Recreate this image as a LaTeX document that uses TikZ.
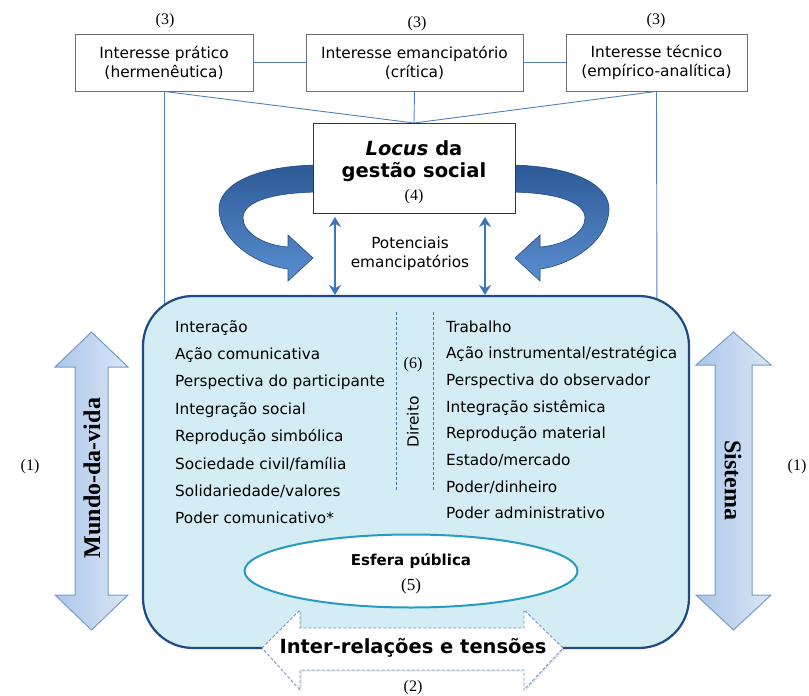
\documentclass[tikz,border=0pt]{standalone}
\usepackage{fontspec}
\setmainfont{Liberation Serif}
\newfontfamily\vsf{DejaVu Sans}
\usetikzlibrary{arrows.meta,shapes.geometric,shadows}
\definecolor{lineblue}{RGB}{79,129,189}
\definecolor{boxgray}{RGB}{110,110,110}
\definecolor{mainfill}{RGB}{212,236,243}
\definecolor{mainborder}{RGB}{30,75,135}
\definecolor{ellborder}{RGB}{40,155,195}
\definecolor{potblue}{RGB}{60,117,187}
\definecolor{sidearrL}{RGB}{172,198,232}
\definecolor{sidearrR}{RGB}{218,230,246}
\definecolor{sideborder}{RGB}{120,155,205}
\definecolor{curvedark}{RGB}{45,90,150}
\definecolor{curvelight}{RGB}{90,142,208}
\definecolor{curveedge}{RGB}{35,75,130}
\definecolor{dashborder}{RGB}{110,148,205}
\begin{document}
\begin{tikzpicture}[x=1pt,y=-1pt,
  topbox/.style={draw=boxgray, line width=0.8pt, fill=white, minimum height=57pt, align=center,
    font=\fontsize{15.4}{19}\selectfont\vsf},
  conn/.style={draw=lineblue, line width=0.9pt},
  numlbl/.style={font=\fontsize{16}{18}\selectfont},
  listtxt/.style={anchor=base west, inner sep=0pt, font=\fontsize{15.3}{18}\selectfont\vsf},
  sidearrow/.style={left color=sidearrL, right color=sidearrR, draw=sideborder, line width=1pt},
  curvefill/.style={top color=curvedark, bottom color=curvelight, draw=curveedge, line width=0.6pt},
  potarrow/.style={draw=potblue, line width=2.8pt, {Stealth[length=10pt,width=12pt]}-{Stealth[length=10pt,width=12pt]}},
  sidetxt/.style={font=\fontsize{24}{28}\selectfont\bfseries},
]
\useasboundingbox (0,0) rectangle (809,696);

% top boxes
\node[topbox, minimum width=178pt] (b1) at (164,62.5) {Interesse prático\\(hermenêutica)};
\node[topbox, minimum width=217pt] (b2) at (414.5,62.5) {Interesse emancipatório\\(crítica)};
\node[topbox, minimum width=181pt] (b3) at (656.5,62.5) {Interesse técnico\\(empírico-analítica)};
\node[numlbl] (t1) at (165,21) {(3)};
\node[numlbl] (t2) at (417,24) {(3)};
\node[numlbl] (t3) at (656,21) {(3)};

% coordinates for lines
\coordinate (loctop) at (414,123);
\coordinate (lend) at (164,330);
\coordinate (rend) at (657,330);

\draw[conn] (b1.east) -- (b2.west);
\draw[conn] (b2.east) -- (b3.west);
\draw[conn] (b1.south) -- (loctop);
\draw[conn] (b3.south) -- (loctop);
\draw[conn] (b2.south) -- (loctop);
\draw[conn] (b1.south) -- (lend);
\draw[conn] (b3.south) -- (rend);

% curved arrows
\path[curvefill] (322,165) .. controls (255,165) and (218,185) .. (219,210)
  .. controls (221,245) and (262,266) .. (288,269) -- (288,281) -- (313,258) -- (288,235) -- (288,247)
  .. controls (262,245) and (243,232) .. (243,218) .. controls (243,200) and (278,192) .. (322,192) -- cycle;
\begin{scope}[shift={(828,0)}, xscale=-1]
\path[curvefill] (322,165) .. controls (255,165) and (218,185) .. (219,210)
  .. controls (221,245) and (262,266) .. (288,269) -- (288,281) -- (313,258) -- (288,235) -- (288,247)
  .. controls (262,245) and (243,232) .. (243,218) .. controls (243,200) and (278,192) .. (322,192) -- cycle;
\end{scope}

% locus box
\node[draw=black!80, line width=1pt, fill=white, minimum width=202pt, minimum height=90pt] (locus) at (414,168) {};
\node[align=center, font=\fontsize{19.5}{22}\selectfont\vsf\bfseries] (loctxt) at (414,161) {\textit{Locus} da\\gestão social};
\node[font=\fontsize{16}{18}\selectfont] (n4) at (414,197) {(4)};

% main box
\node[draw=mainborder, line width=2.2pt, fill=mainfill, rounded corners=50pt,
  minimum width=546pt, minimum height=352pt] (main) at (416,472) {};

% potentials arrows
\coordinate (pa1) at (335,217);
\coordinate (pa2) at (335,295);
\coordinate (pb1) at (485,217);
\coordinate (pb2) at (485,295);
\draw[potarrow] (pa1) -- (pa2);
\draw[potarrow] (pb1) -- (pb2);
\node[align=center, font=\fontsize{15.3}{19}\selectfont\vsf] (pot) at (410,254) {Potenciais\\emancipatórios};

% lists
\foreach \t [count=\i] in {Interação,Ação comunicativa,Perspectiva do participante,Integração social,Reprodução simbólica,Sociedade civil/família,Solidariedade/valores,Poder comunicativo*}
  \node[listtxt] (L\i) at (175,{332+27.4*(\i-1)}) {\t};
\foreach \t [count=\i] in {Trabalho,Ação instrumental/estratégica,Perspectiva do observador,Integração sistêmica,Reprodução material,Estado/mercado,Poder/dinheiro,Poder administrativo}
  \node[listtxt] (R\i) at (446,{332+26.7*(\i-1)}) {\t};

% Direito
\coordinate (d1a) at (396,312);
\coordinate (d1b) at (396,490);
\coordinate (d2a) at (433,312);
\coordinate (d2b) at (433,490);
\draw[draw=potblue, line width=0.8pt, dash pattern=on 3pt off 2pt] (d1a) -- (d1b);
\draw[draw=potblue, line width=0.8pt, dash pattern=on 3pt off 2pt] (d2a) -- (d2b);
\node[font=\fontsize{16}{18}\selectfont] (n6) at (413,365) {(6)};
\node[rotate=90, font=\fontsize{15.3}{18}\selectfont\vsf] (dir) at (413,422) {Direito};

% esfera publica
\node[ellipse, draw=ellborder, line width=2pt, fill=white, minimum width=333pt, minimum height=73pt] (esf) at (411,571) {};
\node[font=\fontsize{15}{18}\selectfont\vsf\bfseries] (esft) at (411,561) {Esfera pública};
\node[font=\fontsize{17}{20}\selectfont] (n5) at (411,586) {(5)};

% inter-relacoes arrow
\path[draw=dashborder, line width=0.9pt, dash pattern=on 3pt off 2pt, fill=white,
  drop shadow={opacity=0.2, shadow xshift=1.5pt, shadow yshift=-1.5pt}]
  (262,648) -- (300,610) -- (300,628) -- (524,628) -- (524,610) -- (563,648)
  -- (524,690) -- (524,670) -- (300,670) -- (300,690) -- cycle;
\node[font=\fontsize{19.5}{22}\selectfont\vsf\bfseries] (inter) at (413,648) {Inter-relações e tensões};
\node[font=\fontsize{16}{18}\selectfont] (n2) at (413,688) {(2)};

% side arrows
\path[sidearrow] (91.5,332) -- (128,367) -- (108,367) -- (108,595) -- (128,595) -- (91.5,630)
  -- (55,595) -- (75,595) -- (75,367) -- (55,367) -- cycle;
\path[sidearrow] (733.5,332) -- (771,365) -- (752,365) -- (752,595) -- (771,595) -- (733.5,630)
  -- (696,595) -- (715,595) -- (715,365) -- (696,365) -- cycle;
\node[rotate=90, sidetxt] (mdv) at (92,478) {Mundo-da-vida};
\node[rotate=-90, sidetxt] (sis) at (733,480) {Sistema};
\node[numlbl] (s1) at (30,467) {(1)};
\node[numlbl] (s2) at (797,467) {(1)};
\end{tikzpicture}
\end{document}
